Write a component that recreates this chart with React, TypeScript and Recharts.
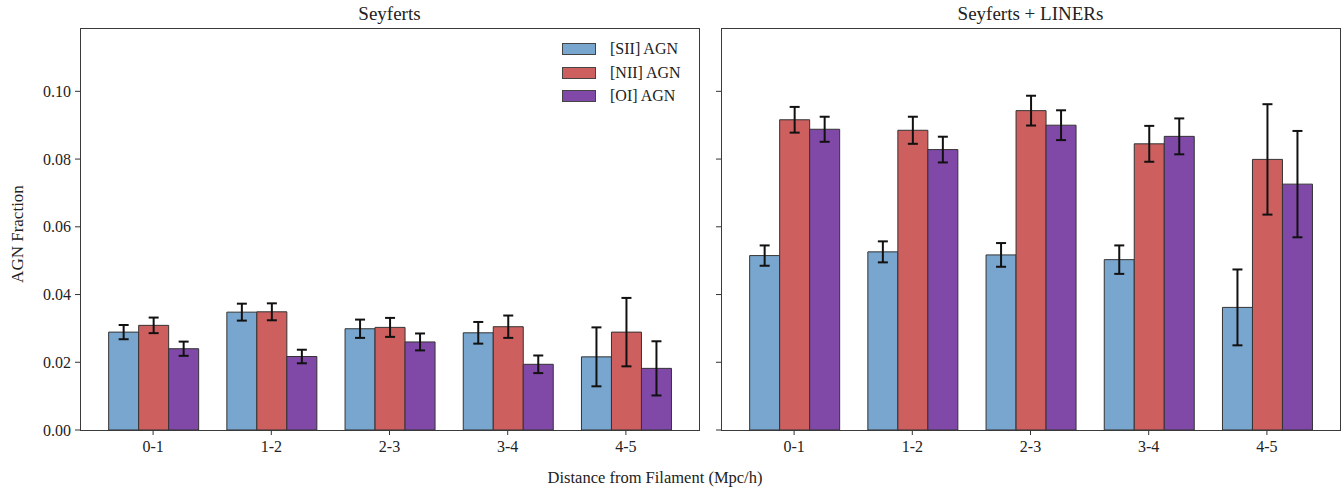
import React from "react";
import { BarChart, Bar, XAxis, YAxis, ErrorBar, Legend } from "recharts";

// distance bins
const categories = ["0-1", "1-2", "2-3", "3-4", "4-5"];
const seriesNames = ["[SII] AGN", "[NII] AGN", "[OI] AGN"];

// Seyferts only
const seySII = [0.0289, 0.0348, 0.0299, 0.0287, 0.0216];
const seySIIErr = [0.0021, 0.0025, 0.0027, 0.0032, 0.0087];
const seyNII = [0.0309, 0.0349, 0.0303, 0.0305, 0.0289];
const seyNIIErr = [0.0023, 0.0025, 0.0028, 0.0033, 0.0101];
const seyOI = [0.024, 0.0217, 0.026, 0.0194, 0.0182];
const seyOIErr = [0.0021, 0.002, 0.0025, 0.0026, 0.008];

// Seyferts + LINERs
const allSII = [0.0515, 0.0526, 0.0517, 0.0503, 0.0362];
const allSIIErr = [0.003, 0.0031, 0.0035, 0.0042, 0.0112];
const allNII = [0.0916, 0.0885, 0.0943, 0.0845, 0.0799];
const allNIIErr = [0.0038, 0.004, 0.0044, 0.0053, 0.0163];
const allOI = [0.0888, 0.0828, 0.09, 0.0867, 0.0726];
const allOIErr = [0.0037, 0.0038, 0.0044, 0.0053, 0.0157];

const yTicks = [0, 0.02, 0.04, 0.06, 0.08, 0.1];

const FONT = "'Liberation Serif', 'DejaVu Serif', serif";
const C_SII = "#79a6ce";
const C_NII = "#cd5f5f";
const C_OI = "#8049a8";

const buildRows = (s, sErr, n, nErr, o, oErr) =>
  categories.map((c, i) => ({
    cat: c,
    sii: s[i],
    siiErr: sErr[i],
    nii: n[i],
    niiErr: nErr[i],
    oi: o[i],
    oiErr: oErr[i],
  }));

const seyData = buildRows(seySII, seySIIErr, seyNII, seyNIIErr, seyOI, seyOIErr);
const allData = buildRows(allSII, allSIIErr, allNII, allNIIErr, allOI, allOIErr);

const renderLegend = (props) => {
  // keep the series order, recharts sorts by name otherwise
  const items = [...(props.payload || [])].sort(
    (a, b) => seriesNames.indexOf(a.value) - seriesNames.indexOf(b.value)
  );
  return (
    <div style={{ fontFamily: FONT, fontSize: 16, color: "#222" }}>
      {items.map((entry) => (
        <div key={entry.value} style={{ display: "flex", alignItems: "center", height: 23.7 }}>
          <span
            style={{
              display: "inline-block",
              width: 34,
              height: 12,
              background: entry.color,
              border: "1px solid #444",
              boxSizing: "border-box",
              marginRight: 14,
            }}
          />
          <span>{entry.value}</span>
        </div>
      ))}
    </div>
  );
};

function Panel({ data, showLabels, showLegend }) {
  const tickStyle = { fontFamily: FONT, fontSize: 16, fill: "#222" };
  return (
    <BarChart
      width={700}
      height={489}
      data={data}
      margin={{ top: 28, right: 1, left: 0, bottom: 0 }}
      barCategoryGap="12.4%"
      barGap={0}
    >
      <XAxis
        dataKey="cat"
        height={59}
        padding={{ left: 14, right: 14 }}
        axisLine={false}
        tickLine={{ stroke: "#333" }}
        tickSize={5}
        tickMargin={6}
        tick={tickStyle}
      />
      <YAxis
        width={80}
        domain={[0, 0.1187]}
        ticks={yTicks}
        axisLine={false}
        tickLine={{ stroke: "#333" }}
        tickSize={5}
        tickMargin={4}
        tick={tickStyle}
        tickFormatter={(v) => (showLabels ? v.toFixed(2) : "")}
      />
      {showLegend && (
        <Legend
          layout="horizontal"
          verticalAlign="middle"
          align="center"
          content={renderLegend}
          wrapperStyle={{ left: 562, top: 37, width: "auto", height: "auto" }}
        />
      )}
      <Bar dataKey="sii" name={seriesNames[0]} fill={C_SII} stroke="#333" strokeWidth={1} isAnimationActive={false}>
        <ErrorBar dataKey="siiErr" width={5} stroke="#111" strokeWidth={2} />
      </Bar>
      <Bar dataKey="nii" name={seriesNames[1]} fill={C_NII} stroke="#333" strokeWidth={1} isAnimationActive={false}>
        <ErrorBar dataKey="niiErr" width={5} stroke="#111" strokeWidth={2} />
      </Bar>
      <Bar dataKey="oi" name={seriesNames[2]} fill={C_OI} stroke="#333" strokeWidth={1} isAnimationActive={false}>
        <ErrorBar dataKey="oiErr" width={5} stroke="#111" strokeWidth={2} />
      </Bar>
    </BarChart>
  );
}

const frame = (left) => ({
  position: "absolute",
  left,
  top: 28,
  width: 620,
  height: 403,
  border: "1.3px solid #3a3a3a",
  boxSizing: "border-box",
  pointerEvents: "none",
});

const title = (cx) => ({
  position: "absolute",
  left: cx - 200,
  top: 4,
  width: 400,
  textAlign: "center",
  fontFamily: FONT,
  fontSize: 19,
  lineHeight: "19px",
  color: "#222",
});

export default function App() {
  return (
    <div style={{ position: "absolute", left: 0, top: 0, width: 1344, height: 489, background: "#fff", overflow: "hidden" }}>
      <div style={{ position: "absolute", left: 0, top: 0 }}>
        <Panel data={seyData} showLabels showLegend />
      </div>
      <div style={{ position: "absolute", left: 641, top: 0 }}>
        <Panel data={allData} showLabels={false} showLegend={false} />
      </div>
      <div style={frame(79.5)} />
      <div style={frame(720.5)} />
      <div style={title(389.5)}>Seyferts</div>
      <div style={title(1030.5)}>Seyferts + LINERs</div>
      <div
        style={{
          position: "absolute",
          left: 455,
          top: 470,
          width: 400,
          textAlign: "center",
          fontFamily: FONT,
          fontSize: 16.5,
          lineHeight: "16.5px",
          color: "#222",
        }}
      >
        Distance from Filament (Mpc/h)
      </div>
      <div
        style={{
          position: "absolute",
          left: 18 - 100,
          top: 234 - 9,
          width: 200,
          height: 18,
          textAlign: "center",
          fontFamily: FONT,
          fontSize: 17,
          lineHeight: "18px",
          color: "#222",
          transform: "rotate(-90deg)",
        }}
      >
        AGN Fraction
      </div>
    </div>
  );
}
